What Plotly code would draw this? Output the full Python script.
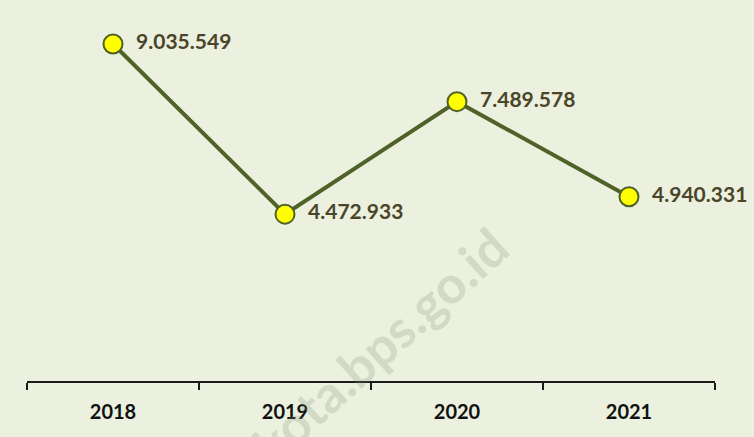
import plotly.graph_objects as go

years = ["2018", "2019", "2020", "2021"]
values = [9035549, 4472933, 7489578, 4940331]
labels = ["9.035.549", "4.472.933", "7.489.578", "4.940.331"]

bg = "#EBF0DF"

fig = go.Figure()
fig.add_trace(go.Scatter(
    x=years, y=values, mode="lines+markers+text",
    text=["  " + s for s in labels], textposition="middle right",
    textfont=dict(family="Lato", size=21, color="#4A4528", weight="bold"),
    line=dict(color="#4F6228", width=4),
    marker=dict(size=19, color="#FFFF00", line=dict(color="#4F6228", width=2)),
    cliponaxis=False, showlegend=False, hoverinfo="skip",
))

fig.add_annotation(
    text="kota.bps.go.id", xref="paper", yref="paper",
    x=(380 - 27) / 688, y=(381 - 345) / 373,
    xanchor="center", yanchor="middle",
    showarrow=False, textangle=-42,
    font=dict(family="Lato", size=52, color="rgba(130,150,120,0.24)", weight="bold"),
)

fig.update_layout(
    width=754, height=437,
    margin=dict(l=27, r=39, t=8, b=56),
    paper_bgcolor=bg, plot_bgcolor=bg,
    xaxis=dict(type="category", range=[-0.5, 3.5], showgrid=False,
               showline=True, linecolor="#1a1a1a", linewidth=2,
               ticks="outside", tickson="boundaries", ticklen=7,
               tickcolor="#1a1a1a", tickwidth=2, ticklabelstandoff=12,
               tickfont=dict(family="Lato", size=20, color="#111111", weight="bold")),
    yaxis=dict(range=[0, 10000000], visible=False, showgrid=False, zeroline=False),
)

fig.write_html("out.html", config={"displayModeBar": False},
               post_script="document.body.style.margin='0';document.body.style.background='%s';" % bg)
